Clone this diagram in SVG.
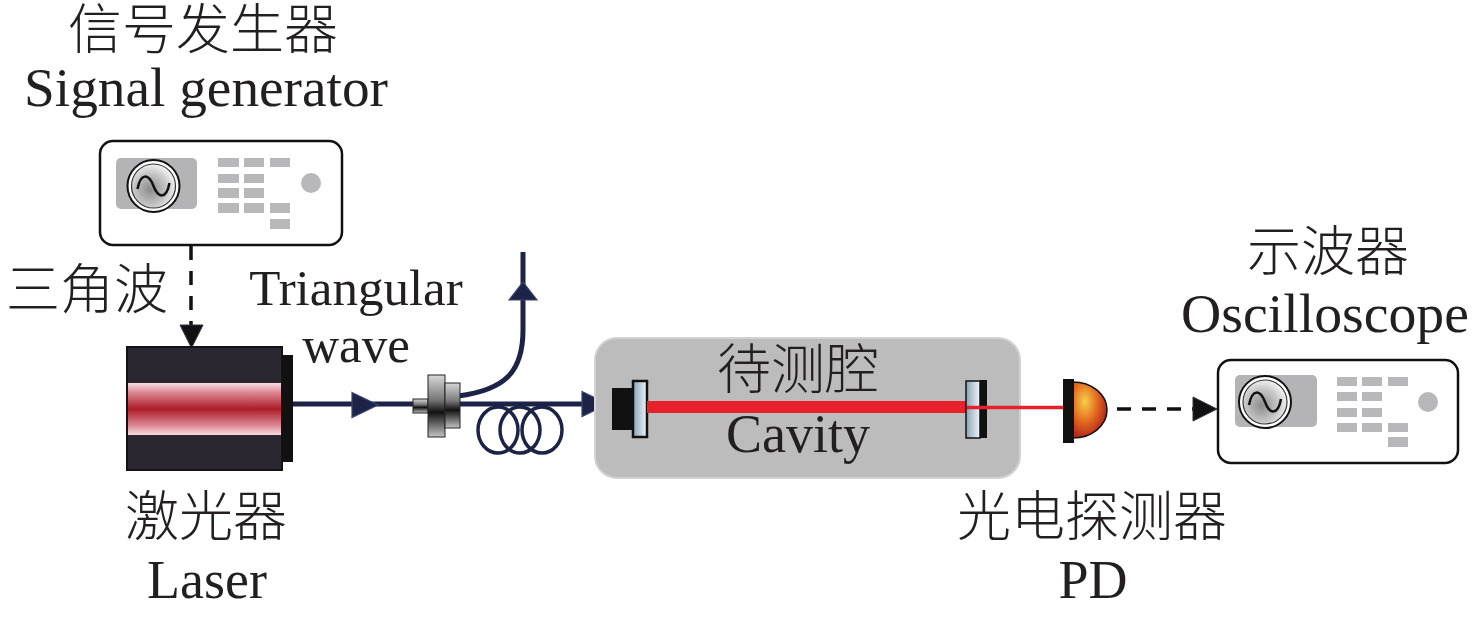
<svg xmlns="http://www.w3.org/2000/svg" width="1476" height="618" viewBox="0 0 1476 618">
<style>
.en{font-family:"Liberation Serif","Times New Roman",serif;font-size:54px;fill:#231f20;text-anchor:middle}
.cn{font-family:"Liberation Serif","Noto Sans CJK SC",serif;font-size:54px;fill:#231f20;text-anchor:middle;font-weight:300}
.sm{font-size:51px}
.fiber{fill:none;stroke:#1d2346;stroke-width:5}
.dash{fill:none;stroke:#111;stroke-width:3.5;stroke-dasharray:14 11}
.panel{fill:#fff;stroke:#111;stroke-width:2.5}
.scr{fill:#b4b4b6}
.btn{fill:#b8b8ba}
</style>
<defs>
<linearGradient id="redband" x1="0" y1="0" x2="0" y2="1">
<stop offset="0" stop-color="#f6dde2"/>
<stop offset="0.18" stop-color="#dc8893"/>
<stop offset="0.5" stop-color="#ac1c28"/>
<stop offset="0.82" stop-color="#dc8893"/>
<stop offset="1" stop-color="#f6dde2"/>
</linearGradient>
<linearGradient id="metal" x1="0" y1="0" x2="0" y2="1">
<stop offset="0" stop-color="#d8d8d8"/>
<stop offset="0.4" stop-color="#777"/>
<stop offset="0.6" stop-color="#111"/>
<stop offset="1" stop-color="#c4c4c4"/>
</linearGradient>
<linearGradient id="mirror" x1="0" y1="0" x2="1" y2="0">
<stop offset="0" stop-color="#8aa3b6"/>
<stop offset="1" stop-color="#f2f6f8"/>
</linearGradient>
<radialGradient id="dome" cx="0.35" cy="0.35" r="0.75">
<stop offset="0" stop-color="#f8cf4a"/>
<stop offset="0.5" stop-color="#e2681f"/>
<stop offset="1" stop-color="#a3141a"/>
</radialGradient>
<radialGradient id="dial" cx="0.42" cy="0.58" r="0.6">
<stop offset="0" stop-color="#8c8c8c"/>
<stop offset="0.6" stop-color="#c4c4c4"/>
<stop offset="1" stop-color="#f4f4f4"/>
</radialGradient>
<path id="navyTri" d="M0,-12.5 L26,0 L0,12.5 Z" fill="#1d2346" stroke="#3a4470" stroke-width="1.2"/>
<path id="sine" d="M-16,3 C-13,-13 -5,-13 0,0 C5,13 13,13 16,-3" fill="none" stroke="#111" stroke-width="2.5"/>
</defs>

<rect width="1476" height="618" fill="#fff"/>

<g id="connectors">
<!-- signal generator to laser -->
<line class="dash" x1="191" y1="246" x2="191" y2="326"/>
<path d="M180,325 L203,325 L191.5,348 Z" fill="#111" stroke="#334" stroke-width="1"/>
<!-- PD to oscilloscope -->
<line class="dash" x1="1117" y1="409" x2="1195" y2="409"/>
<path d="M1193,397 L1217,409 L1193,421 Z" fill="#111" stroke="#334" stroke-width="1"/>
<!-- fibers -->
<line class="fiber" x1="293" y1="404" x2="414" y2="404"/>
<use href="#navyTri" x="352" y="405"/>
<line class="fiber" x1="458" y1="404" x2="590" y2="404"/>
<use href="#navyTri" x="582" y="404"/>
<path class="fiber" d="M458,396 C505,390 523,372 523,330 L523,252"/>
<path d="M509,300 L537,300 L523,282 Z" fill="#1d2346" stroke="#3a4470" stroke-width="1.2"/>
<g id="fiber-coil" fill="none" stroke="#1d2346" stroke-width="3.5">
<ellipse cx="498" cy="430" rx="20" ry="23"/>
<ellipse cx="520" cy="430" rx="20" ry="23"/>
<ellipse cx="542" cy="430" rx="20" ry="23"/>
</g>
</g>

<g id="signal-generator">
<rect class="panel" x="100" y="141" width="242" height="104" rx="13"/>
<rect class="scr" x="116" y="158" width="81" height="51" rx="5"/>
<circle cx="153.5" cy="186" r="26" fill="#fff" stroke="#111" stroke-width="2"/>
<circle cx="153.5" cy="186" r="22" fill="url(#dial)" stroke="#333" stroke-width="1.2"/>
<use href="#sine" x="153.5" y="186"/>
<g class="btn">
<rect x="218" y="158" width="21" height="9"/><rect x="244" y="158" width="20" height="9"/><rect x="270" y="158" width="20" height="9"/>
<rect x="218" y="174" width="21" height="9"/><rect x="244" y="174" width="20" height="9"/>
<rect x="218" y="188" width="21" height="10"/><rect x="244" y="188" width="20" height="10"/>
<rect x="218" y="203" width="21" height="10"/><rect x="244" y="203" width="20" height="10"/><rect x="270" y="203" width="20" height="10"/>
<rect x="270" y="219" width="20" height="10"/>
<circle cx="311" cy="183" r="10"/>
</g>
<text class="cn" x="203" y="49">信号发生器</text>
<text class="en" x="206" y="106" textLength="364" lengthAdjust="spacingAndGlyphs">Signal generator</text>
<text class="cn" x="87" y="309">三角波</text>
<text class="en sm" x="356" y="305">Triangular</text>
<text class="en sm" x="356" y="362">wave</text>
</g>

<g id="laser">
<rect x="127" y="347" width="155" height="123" fill="#2a2730" stroke="#141216" stroke-width="2"/>
<rect x="128" y="383" width="153" height="52" fill="url(#redband)"/>
<rect x="282" y="355" width="11" height="107" fill="#111"/>
<text class="cn" x="206" y="536">激光器</text>
<text class="en" x="207" y="598">Laser</text>
</g>

<g id="coupler">
<rect x="413" y="399" width="15" height="14" fill="url(#metal)" stroke="#222" stroke-width="1"/>
<rect x="428" y="375" width="17" height="62" fill="url(#metal)" stroke="#222" stroke-width="1"/>
<rect x="445" y="383" width="15" height="45" fill="url(#metal)" stroke="#222" stroke-width="1"/>
</g>

<g id="cavity">
<rect x="595" y="338" width="425" height="140" rx="22" fill="#bcbcbc" stroke="#d2d2d2" stroke-width="2"/>
<rect x="612" y="388" width="20" height="42" fill="#111"/>
<rect x="633" y="381" width="14" height="56" fill="url(#mirror)" stroke="#111" stroke-width="2.5"/>
<rect x="647" y="401" width="320" height="12" fill="#e8202a"/>
<rect x="966" y="381" width="14" height="57" fill="url(#mirror)" stroke="#111" stroke-width="1.5"/>
<rect x="980" y="380" width="7" height="58" fill="#111"/>
<line x1="967" y1="407.5" x2="1064" y2="407.5" stroke="#e8202a" stroke-width="3.5"/>
<text class="cn" x="798" y="389">待测腔</text>
<text class="en" x="798" y="452">Cavity</text>
</g>

<g id="photodetector">
<path d="M1073,382 A34,28 0 0 1 1073,438 Z" fill="url(#dome)" stroke="#111" stroke-width="1.5"/>
<rect x="1063" y="379" width="11" height="64" fill="#111"/>
<text class="cn" x="1092" y="536">光电探测器</text>
<text class="en" x="1093" y="598">PD</text>
</g>

<g id="oscilloscope">
<rect class="panel" x="1218" y="360" width="240" height="103" rx="13"/>
<rect class="scr" x="1235" y="375" width="82" height="52" rx="5"/>
<circle cx="1265" cy="402" r="26" fill="#fff" stroke="#111" stroke-width="2"/>
<circle cx="1265" cy="402" r="22" fill="url(#dial)" stroke="#333" stroke-width="1.2"/>
<use href="#sine" x="1265" y="402"/>
<g class="btn">
<rect x="1337" y="377" width="20" height="9"/><rect x="1362" y="377" width="20" height="9"/><rect x="1388" y="377" width="20" height="9"/>
<rect x="1337" y="392" width="20" height="9"/><rect x="1362" y="392" width="20" height="9"/>
<rect x="1337" y="408" width="20" height="9"/><rect x="1362" y="408" width="20" height="9"/>
<rect x="1337" y="423" width="20" height="9"/><rect x="1362" y="423" width="20" height="9"/><rect x="1388" y="423" width="20" height="9"/>
<rect x="1388" y="437" width="20" height="10"/>
<circle cx="1428" cy="402" r="10"/>
</g>
<text class="cn" x="1328" y="271">示波器</text>
<text class="en" x="1325" y="332" textLength="288" lengthAdjust="spacingAndGlyphs">Oscilloscope</text>
</g>
</svg>
